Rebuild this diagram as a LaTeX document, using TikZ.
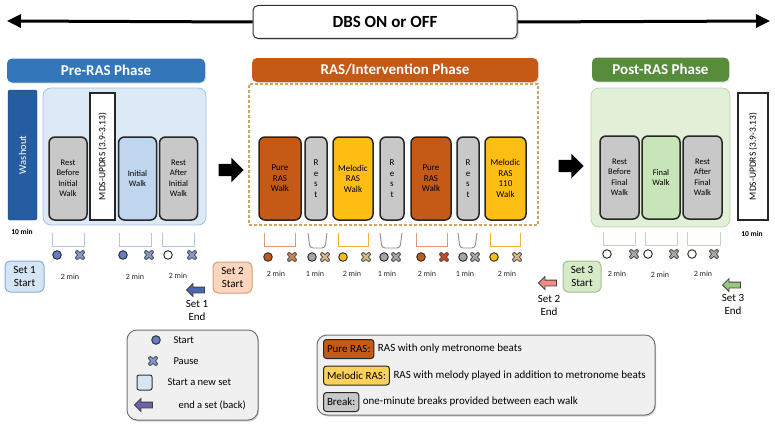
\documentclass[tikz,border=0pt]{standalone}
\usepackage{fontspec}
\setmainfont{Carlito}
\usepackage{tikz}
\usetikzlibrary{shapes,arrows.meta,positioning,calc,shadows}
\definecolor{prenavy}{RGB}{38, 92, 160}
\definecolor{preblue}{RGB}{52, 118, 186}
\definecolor{prelight}{RGB}{220, 233, 246}
\definecolor{prewalk}{RGB}{190, 214, 238}
\definecolor{predot}{RGB}{100, 125, 195}
\definecolor{restgray}{RGB}{200, 200, 200}
\definecolor{rasorange}{RGB}{196, 90, 22}
\definecolor{rasyellow}{RGB}{255, 190, 20}
\definecolor{rastan}{RGB}{205, 165, 95}
\definecolor{postgreen}{RGB}{86, 140, 58}
\definecolor{postlight}{RGB}{226, 240, 216}
\definecolor{postwalk}{RGB}{200, 228, 185}
\definecolor{setpeach}{RGB}{251, 214, 188}
\definecolor{setblue}{RGB}{214, 229, 244}
\definecolor{setgreen}{RGB}{214, 234, 200}
\definecolor{keygray}{RGB}{240, 240, 240}
\definecolor{keypurple}{RGB}{105, 100, 170}
\definecolor{endblue}{RGB}{70, 105, 175}
\definecolor{endpink}{RGB}{240, 140, 130}
\definecolor{endgreen}{RGB}{150, 200, 125}

\tikzset{
  banner/.style={draw=black!80, line width=1pt, fill=white, rounded corners=5pt, minimum width=264pt, minimum height=33pt, drop shadow={shadow xshift=1.5pt, shadow yshift=-1.5pt, opacity=0.35}},
  phasehead/.style={rectangle, rounded corners=5pt, text=white, font=\fontsize{15}{18}\selectfont\bfseries, minimum height=24pt, inner sep=0pt, drop shadow={shadow xshift=1pt, shadow yshift=-1pt, opacity=0.25}},
  panel/.style={rounded corners=8pt, line width=0.8pt},
  walkbox/.style={draw=black!85, line width=1.5pt, rounded corners=6pt, fill=restgray, align=center, font=\fontsize{8.5}{10.5}\selectfont, minimum height=83pt, inner sep=1pt},
  mdsbox/.style={draw=black!85, line width=1.5pt, fill=white, rotate=90, font=\fontsize{9.5}{11}\selectfont, inner sep=1pt},
  bigarrow/.style={single arrow, fill=black, minimum height=25pt, inner sep=6pt, single arrow head extend=6pt},
  setarrow/.style={single arrow, shape border rotate=180, draw=black!75, line width=0.8pt, minimum height=18pt, inner sep=2.5pt, single arrow head extend=3.5pt},
  setstart/.style={draw, line width=1pt, rounded corners=5pt, align=center, font=\fontsize{11}{13}\selectfont, minimum width=39pt, minimum height=31pt, inner sep=1pt},
  endlabel/.style={align=center, font=\fontsize{11}{13}\selectfont},
  minlabel/.style={font=\fontsize{8}{9}\selectfont, text=black!85},
  startdot/.style={circle, draw=black!80, line width=1pt, minimum size=8.5pt, inner sep=0pt},
  keyframe/.style={draw=black!55, line width=1pt, fill=keygray, rounded corners=10pt, drop shadow={shadow xshift=1pt, shadow yshift=-1.5pt, opacity=0.35}},
  keybox/.style={draw=black!85, line width=1pt, rounded corners=3pt, inner xsep=3.5pt, inner ysep=2pt, minimum height=19pt, font=\fontsize{11}{13}\selectfont},
  keytext/.style={font=\fontsize{10.5}{12.5}\selectfont},
  pics/pausex/.style={code={
    \draw[line width=4.2pt, black!70, line cap=round] (-2.8,-2.8) -- (2.8,2.8) (-2.8,2.8) -- (2.8,-2.8);
    \draw[line width=2.2pt, #1, line cap=round] (-2.8,-2.8) -- (2.8,2.8) (-2.8,2.8) -- (2.8,-2.8);
  }}
}
% open brackets below the walks
\newcommand{\walkbracket}[4]{\draw[#4, line width=0.9pt] (#1,#3) -- (#1,#3+13) -- (#2,#3+13) -- (#2,#3);}
\newcommand{\restbracket}[4]{\draw[#4, line width=0.9pt, rounded corners=3pt] (#1,#3) -- (#1+2,#3+15) -- (#2-2,#3+15) -- (#2,#3);}

\begin{document}
\begin{tikzpicture}[x=1pt, y=-1pt]
    \useasboundingbox (0,0) rectangle (775,428);
    % DBS banner
    \node[banner, font=\fontsize{17}{20}\selectfont\bfseries] (dbs) at (385,22) {DBS ON or OFF};
    \coordinate (dbsleft) at (7,21);
    \coordinate (dbsright) at (770,21);
    \draw[line width=3pt, -{Triangle[length=14pt,width=13pt]}] (dbs.west) -- (dbsleft);
    \draw[line width=3pt, -{Triangle[length=14pt,width=13pt]}] (dbs.east) -- (dbsright);

    % Pre-RAS
    \node[phasehead, fill=preblue, minimum width=198pt] (prehead) at (106,70.5) {Pre-RAS Phase};
    \node[draw=prenavy!70!black, fill=prenavy, rounded corners=2pt, rotate=90, minimum width=130pt, minimum height=29pt, text=white, font=\fontsize{10.5}{12}\selectfont] (washout) at (22.5,155) {Washout};
    \node[font=\fontsize{7.5}{9}\selectfont\bfseries] (washtime) at (22,232) {10 min};
    \node[panel, draw=preblue!45, fill=prelight, minimum width=163pt, minimum height=137pt] (prepanel) at (124.5,156.5) {};
    \node[walkbox, minimum width=38pt] (restbefore) at (68,178.5) {Rest\\Before\\Initial\\Walk};
    \node[mdsbox, minimum width=127pt, minimum height=25pt] (mdspre) at (102.5,156.5) {MDS-UPDRS (3.9-3.13)};
    \node[walkbox, fill=prewalk, minimum width=38pt] (initwalk) at (137.5,178.5) {Initial\\Walk};
    \node[walkbox, minimum width=38pt] (restafter) at (178.5,178.5) {Rest\\After\\Initial\\Walk};
    \walkbracket{52}{84}{233}{preblue!40}
    \walkbracket{119}{151}{233}{preblue!40}
    \walkbracket{162}{194}{233}{preblue!40}
    \foreach \cx/\px/\col [count=\i] in {57/80/predot, 123/149/predot, 168/192/white} {
        \node[startdot, fill=\col] (predot\i) at (\cx,255) {};
        \pic at (\px,255) {pausex=predot!80};
    }
    \node[minlabel] (pretime1) at (70,277) {2 min};
    \node[minlabel] (pretime2) at (135,277) {2 min};
    \node[minlabel] (pretime3) at (178,276) {2 min};
    \node[setstart, draw=preblue!60, fill=setblue] (set1start) at (24.5,276.5) {Set 1\\Start};
    \node[setarrow, fill=endblue] (set1arrow) at (197,290) {};
    \node[endlabel, below=4pt of set1arrow] (set1end) {Set 1\\End};

    % RAS / intervention
    \node[bigarrow] (toras) at (228,170) {};
    \node[phasehead, fill=rasorange, minimum width=286pt] (rashead) at (395,70) {RAS/Intervention Phase};
    \node[draw=rastan, line width=1.2pt, dash pattern=on 3pt off 2pt, minimum width=289pt, minimum height=141pt] (rasframe) at (393.5,154.5) {};
    \node[walkbox, fill=rasorange, minimum width=42pt, font=\fontsize{9}{10.5}\selectfont] (pure1) at (280,178.5) {Pure\\RAS\\Walk};
    \node[walkbox, minimum width=22pt, font=\fontsize{9}{10.5}\selectfont] (rest1) at (316,178.5) {R\\e\\s\\t};
    \node[walkbox, fill=rasyellow, minimum width=40pt, font=\fontsize{9}{10.5}\selectfont] (melodic1) at (353,178.5) {Melodic\\RAS\\Walk};
    \node[walkbox, minimum width=24pt, font=\fontsize{9}{10.5}\selectfont] (rest2) at (392,178.5) {R\\e\\s\\t};
    \node[walkbox, fill=rasorange, minimum width=40pt, font=\fontsize{9}{10.5}\selectfont] (pure2) at (431,178.5) {Pure\\RAS\\Walk};
    \node[walkbox, minimum width=22pt, font=\fontsize{9}{10.5}\selectfont] (rest3) at (468,178.5) {R\\e\\s\\t};
    \node[walkbox, fill=rasyellow, minimum width=41pt, font=\fontsize{9}{10.5}\selectfont] (melodic2) at (505.5,178.5) {Melodic\\RAS\\110\\Walk};
    \walkbracket{264}{295}{233}{rasorange!60}
    \restbracket{308}{327}{233}{black!45}
    \walkbracket{338}{368}{233}{rasyellow!60!rastan}
    \restbracket{380}{402}{233}{black!45}
    \walkbracket{416}{447}{233}{rasorange!60}
    \restbracket{458}{477}{233}{black!45}
    \walkbracket{490}{520}{233}{rasyellow!60!rastan}
    \foreach \cx/\px/\col/\pcol [count=\i] in {268/292/rasorange/rasorange!75, 312/325/black!35/rastan!80, 343/366/rasyellow/rastan!80, 384/396/black!35/black!35, 421/444/rasorange/rasorange!80!red, 463/475/black!35/black!35, 494/517/rasyellow/rastan!80} {
        \node[startdot, fill=\col] (rasdot\i) at (\cx,257) {};
        \pic at (\px,257) {pausex=\pcol};
    }
    \node[minlabel] (rastime1) at (276,274) {2 min};
    \node[minlabel] (rastime2) at (315,274) {1 min};
    \node[minlabel] (rastime3) at (352,274) {2 min};
    \node[minlabel] (rastime4) at (387,274) {1 min};
    \node[minlabel] (rastime5) at (427,274) {2 min};
    \node[minlabel] (rastime6) at (465,274) {1 min};
    \node[minlabel] (rastime7) at (507,274) {2 min};
    \node[setstart, draw=rasorange!60, fill=setpeach] (set2start) at (232.5,277.5) {Set 2\\Start};
    \node[setarrow, fill=endpink] (set2arrow) at (549,283) {};
    \node[endlabel, below=6pt of set2arrow] (set2end) {Set 2\\End};

    % Post-RAS
    \node[bigarrow] (topost) at (568,166) {};
    \node[phasehead, fill=postgreen, minimum width=137pt] (posthead) at (660.5,69.5) {Post-RAS Phase};
    \node[panel, draw=postgreen!40, fill=postlight, minimum width=139pt, minimum height=139pt] (postpanel) at (660.5,157.5) {};
    \node[walkbox, minimum width=39pt] (restbeforefinal) at (619.5,177.5) {Rest\\Before\\Final\\Walk};
    \node[walkbox, fill=postwalk, minimum width=38pt] (finalwalk) at (661,177.5) {Final\\Walk};
    \node[walkbox, minimum width=39pt] (restafterfinal) at (702.5,177.5) {Rest\\After\\Final\\Walk};
    \node[mdsbox, minimum width=127pt, minimum height=30pt] (mdspost) at (753,156.5) {MDS-UPDRS (3.9-3.13)};
    \node[font=\fontsize{7.5}{9}\selectfont\bfseries] (posttime) at (752,234) {10 min};
    \walkbracket{603}{635}{232}{postgreen!35}
    \walkbracket{645}{677}{232}{postgreen!35}
    \walkbracket{687}{720}{232}{postgreen!35}
    \foreach \cx/\px [count=\i] in {607/634, 648/674, 692/714} {
        \node[startdot, fill=white] (postdot\i) at (\cx,254) {};
        \pic at (\px,254) {pausex=black!35};
    }
    \node[minlabel] (posttime1) at (617,274) {2 min};
    \node[minlabel] (posttime2) at (660,275) {2 min};
    \node[minlabel] (posttime3) at (703,274) {2 min};
    \node[setstart, draw=postgreen!55, fill=setgreen, minimum width=38pt] (set3start) at (582,276.5) {Set 3\\Start};
    \node[setarrow, fill=endgreen] (set3arrow) at (733,285) {};
    \node[endlabel, below=3pt of set3arrow] (set3end) {Set 3\\End};

    % Symbol key
    \node[keyframe, minimum width=131pt, minimum height=90pt] (symkey) at (192.5,375) {};
    \node[startdot, fill=predot] (keydot) at (156,340) {};
    \node[keytext, anchor=west] (keystart) at (170,340) {Start};
    \pic at (153,361) {pausex=predot!80};
    \node[keytext, anchor=west] (keypause) at (170,361) {Pause};
    \node[draw=black!80, line width=1pt, fill=setblue, rounded corners=2pt, minimum size=15pt] (keysquare) at (144.5,382.5) {};
    \node[keytext, anchor=west] (keynewset) at (164,382) {Start a new set};
    \node[setarrow, fill=keypurple] (keyarrow) at (145,405) {};
    \node[keytext, anchor=west] (keyendset) at (175,405) {end a set (back)};

    % Walk type key
    \node[keyframe, minimum width=338pt, minimum height=80pt] (walkkey) at (486,375) {};
    \node[keybox, fill=rasorange, anchor=west] (keypure) at (323,349) {Pure RAS:};
    \node[keytext, font=\fontsize{11}{13}\selectfont, right=0pt of keypure] (keypuretext) {RAS with only metronome beats};
    \node[keybox, fill=rasyellow!70, anchor=west] (keymelodic) at (323,375.5) {Melodic RAS:};
    \node[keytext, font=\fontsize{11}{13}\selectfont, right=0pt of keymelodic] (keymelodictext) {RAS with melody played in addition to metronome beats};
    \node[keybox, fill=restgray, anchor=west] (keybreak) at (323,402) {Break:};
    \node[keytext, font=\fontsize{11}{13}\selectfont, right=0pt of keybreak] (keybreaktext) {one-minute breaks provided between each walk};
\end{tikzpicture}
\end{document}
